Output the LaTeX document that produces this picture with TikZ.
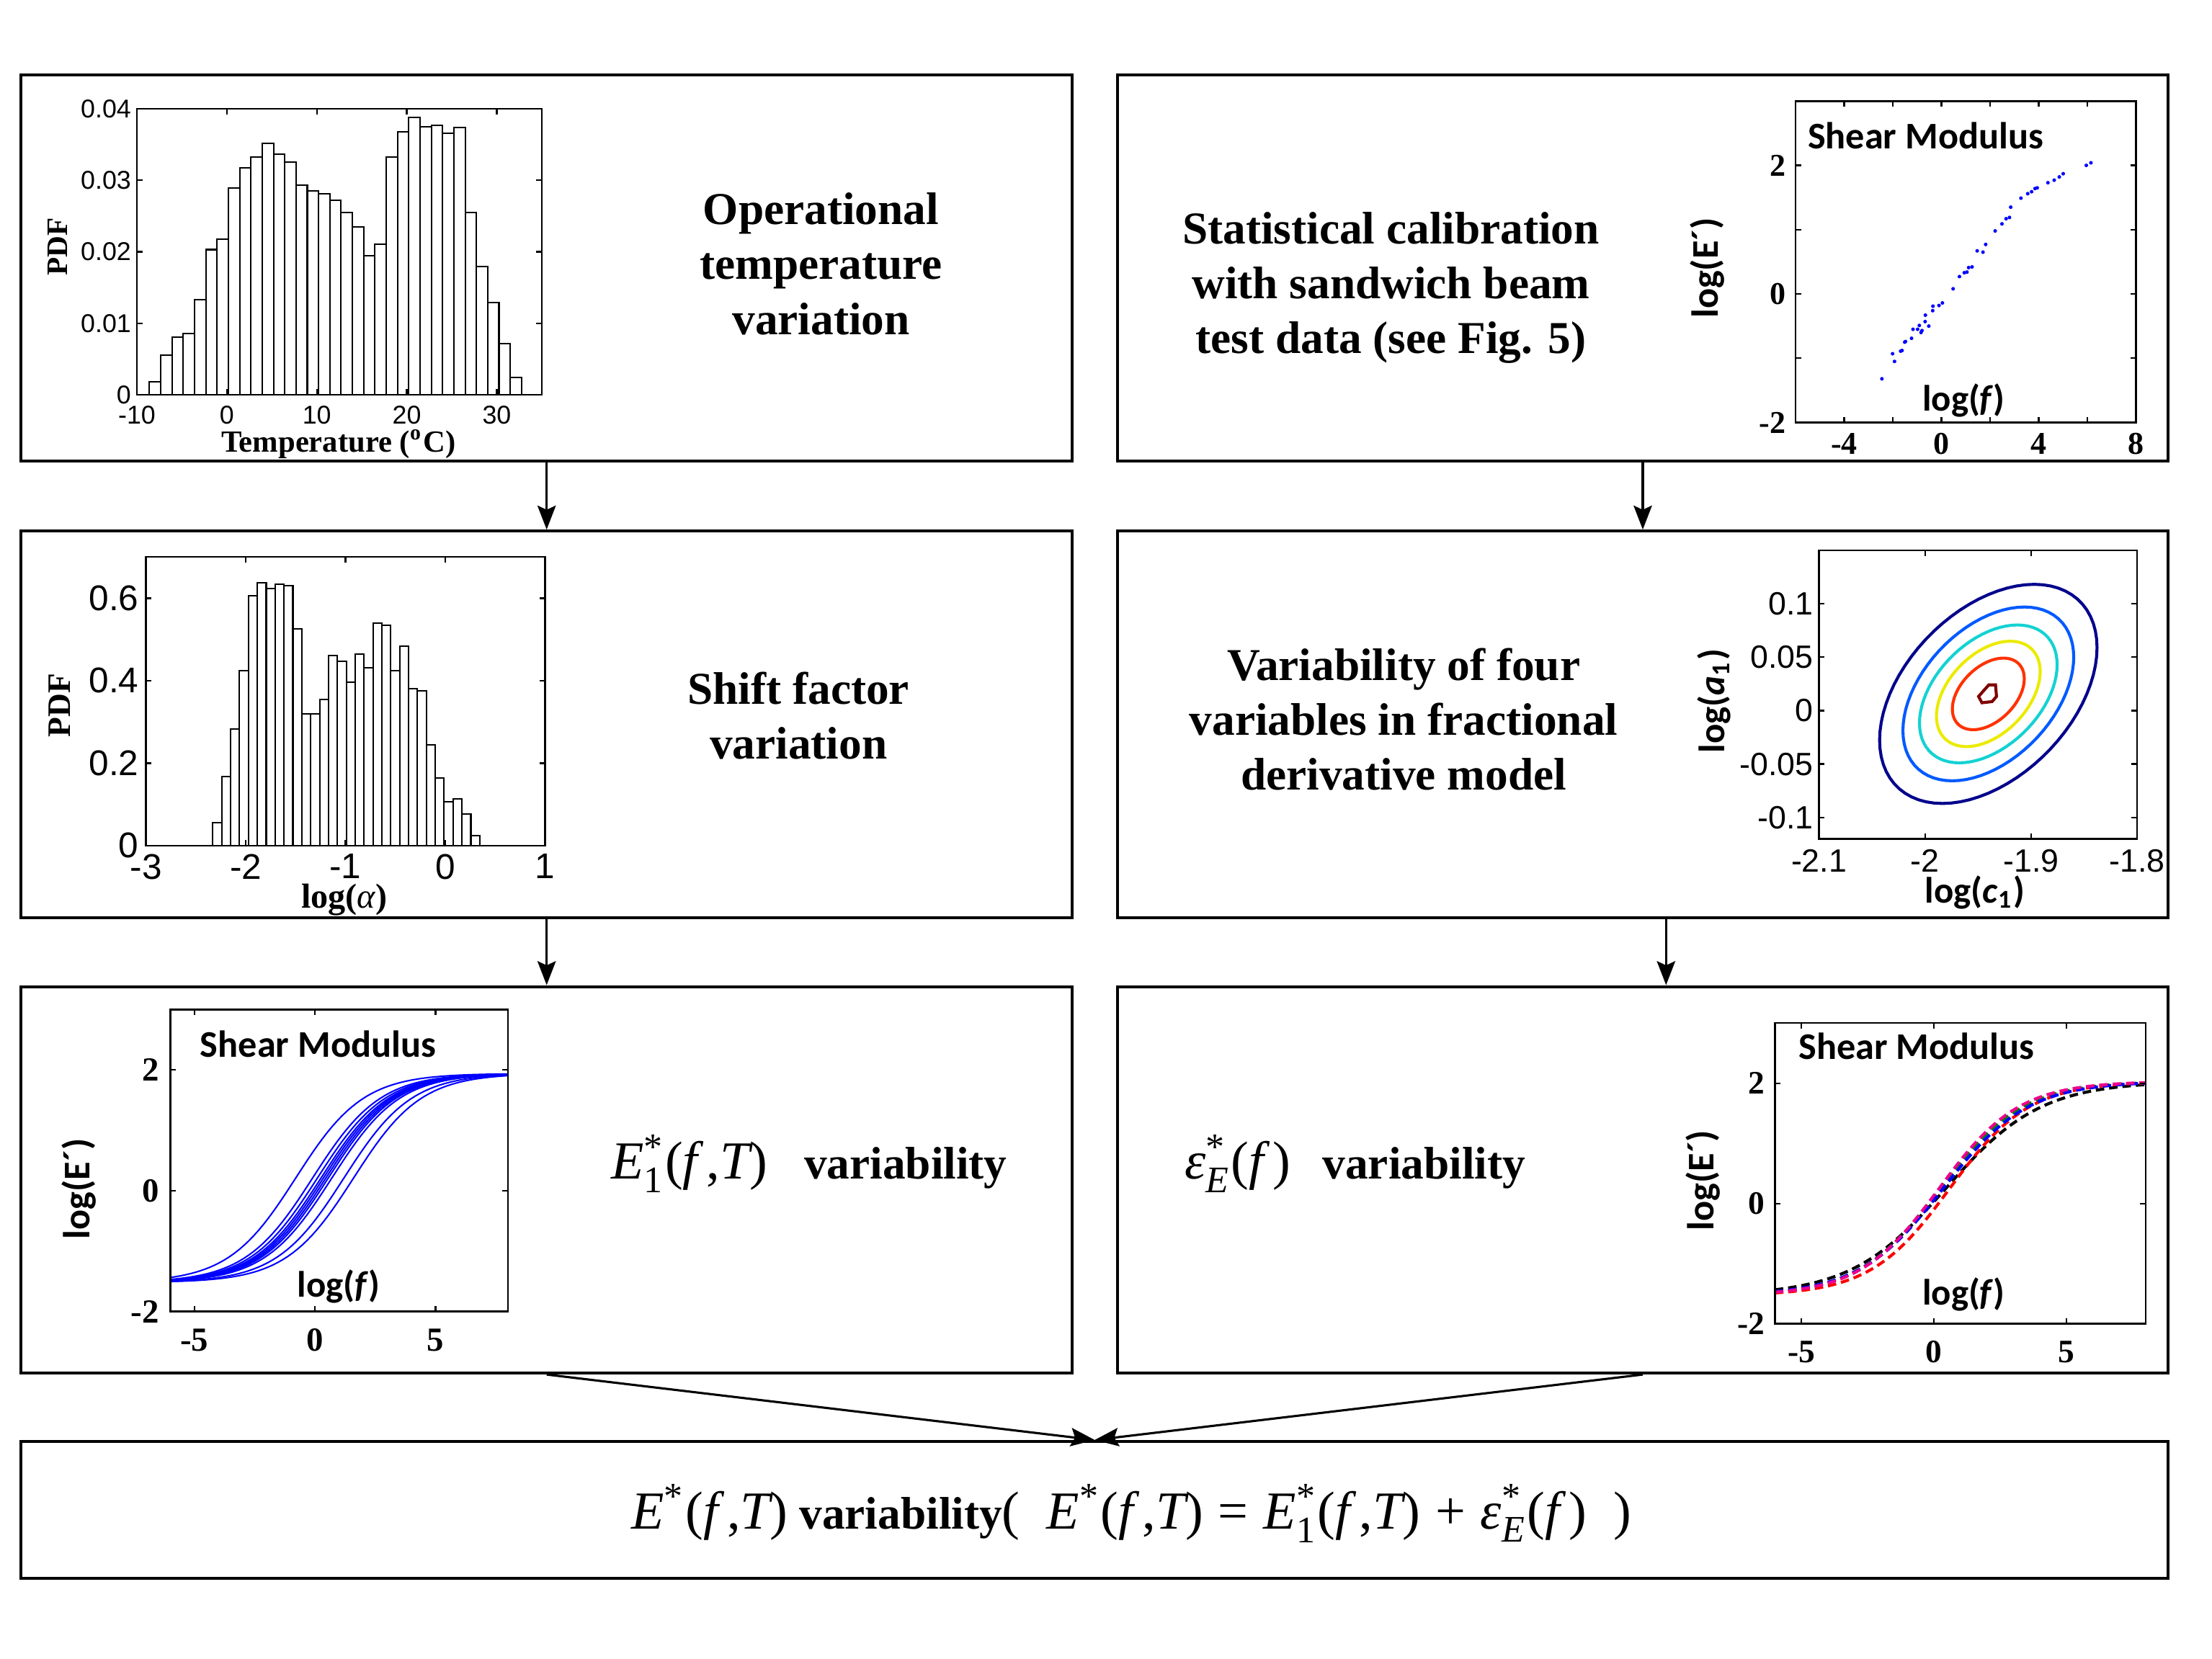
\documentclass[tikz,border=0pt]{standalone}
\usepackage{amsmath}
\usepackage{fontspec}
\setmainfont{Liberation Serif}
\setsansfont{Liberation Sans}
\newfontfamily\calfont{Carlito}
\usetikzlibrary{arrows.meta}

\definecolor{cnavy}{RGB}{0,0,140}
\definecolor{cblue}{RGB}{0,90,255}
\definecolor{ccyan}{RGB}{20,210,210}
\definecolor{cyellow}{RGB}{235,235,0}
\definecolor{cred}{RGB}{255,50,0}
\definecolor{cdarkred}{RGB}{128,0,0}
\definecolor{cgreen}{RGB}{0,128,0}

\newcommand{\mvar}[1]{\text{\normalfont\itshape #1}}
\newcommand{\mrm}[1]{\text{\normalfont #1}}
\newcommand{\mathsz}{\fontsize{10.8}{13}\selectfont}
\newcommand{\Es}{\mvar{E}^{\mrm{*}}}
\newcommand{\Eone}{\mvar{E}^{\mrm{*}}_{\mrm{1}}}
\newcommand{\epsE}{\mvar{ε}^{\mrm{*}}_{\mvar{E}}}
\newcommand{\fT}{\mrm{(}\mvar{f}\mrm{\,,}\mvar{T}\mrm{)}}
\newcommand{\fonly}{\mrm{(}\mvar{f}\,\mrm{)}}

\tikzset{
  stagebox/.style={draw, line width=0.6pt, minimum width=74.5mm, minimum height=27.4mm, inner sep=0pt},
  stagetext/.style={font=\fontsize{9.2}{11.1}\selectfont\bfseries, align=center, inner sep=0pt},
  flow/.style={line width=0.45pt, -{Stealth[length=1.7mm, width=1.3mm, inset=0.3mm]}},
  axisframe/.style={line width=0.35pt},
  histbar/.style={line width=0.3pt, fill=white},
  sanslab/.style={font=\sffamily\fontsize{#1}{#1}\selectfont, inner sep=0.7pt},
  boldlab/.style={font=\bfseries\fontsize{#1}{#1}\selectfont, inner sep=0.7pt},
  callab/.style={font=\calfont\bfseries\fontsize{#1}{#1}\selectfont, inner sep=0pt},
  modcurve/.style={line width=0.3pt, blue},
  errcurve/.style={line width=0.6pt, dash pattern=on 0.6mm off 0.35mm},
  contour/.style={line width=0.6pt}
}

\begin{document}
\begin{tikzpicture}[x=0.1mm, y=-0.1mm]
\fill[white] (0,0) rectangle (1568,1176);
\useasboundingbox (0,0) rectangle (1568,1176);

% stages
\node[stagebox] (temp) at (387.5,190) {};
\node[stagebox] (calib) at (1164.5,190) {};
\node[stagebox] (shift) at (387.5,513.5) {};
\node[stagebox] (fdm) at (1164.5,513.5) {};
\node[stagebox] (eone) at (387.5,836.5) {};
\node[stagebox] (eps) at (1164.5,836.5) {};
\node[stagebox, minimum width=152.2mm, minimum height=9.7mm] (total) at (776,1070.5) {};

\node[stagetext] (temptxt) at (582,187) {Operational\\temperature\\variation};
\node[stagetext] (calibtxt) at (986,204) {Statistical calibration\\with sandwich beam\\test data (see Fig. 5)};
\node[stagetext] (shifttxt) at (566,507.5) {Shift factor\\variation};
\node[stagetext] (fdmtxt) at (995,510) {Variability of four\\variables in fractional\\derivative model};
\node[stagetext] (eonetxt) at (573.5,825) {{\mathsz$\Eone\fT$}\hspace{0.8em}variability};
\node[stagetext] (epstxt) at (960.5,825) {{\mathsz$\epsE\fonly$}\hspace{0.7em}variability};
\node[stagetext] (totaltxt) at (802,1073) {{\mathsz$\Es\fT$} variability{\mathsz\mrm{(}\ \ $\Es\fT\;\mrm{=}\;\Eone\fT\;\mrm{+}\;\epsE\fonly$\ \ \mrm{)}}};

\draw[flow] (temp) -- (shift);
\draw[flow] (calib) -- (fdm);
\draw[flow] (shift) -- (eone);
\draw[flow] ([xshift=1.65mm]fdm.south) -- ([xshift=1.65mm]eps.north);
\draw[flow] (eone.south) -- (total.north);
\draw[flow] (eps.south) -- (total.north);

% temperature histogram
\begin{scope}[shift={(160.8,280)}, x=0.6378mm, y=0.5075mm]
  \foreach \h [count=\i from 0] in {1.8,5.6,8.1,8.6,13.3,20.3,21.8,28.9,31.7,33.2,35.1,33.6,32.5,29.3,28.5,28.1,27.2,25.5,23.5,19.4,21.1,33.2,36.8,38.8,37.5,37.7,36.6,37.4,25.5,17.9,12.9,7.2,2.4}
    \draw[histbar] ({-8.6+1.253*\i},0) rectangle ++(1.253,\h);
  \draw[axisframe] (-10,0) rectangle (35,40);
  \foreach \t [count=\i] in {-10,0,10,20,30} {
    \draw[axisframe] (\t,0) -- ++(0,0.4mm) (\t,40) -- ++(0,-0.4mm);
    \node[sanslab=5.2, below=0.45mm] (tempx\i) at (\t,0) {\t};
  }
  \foreach \v/\l [count=\i] in {0/0,10/0.01,20/0.02,30/0.03,40/0.04} {
    \draw[axisframe] (-10,\v) -- ++(0.4mm,0) (35,\v) -- ++(-0.4mm,0);
    \node[sanslab=5.2, left=0.1mm] (tempy\i) at (-10,\v) {\l};
  }
\end{scope}
\node[boldlab=6, rotate=90] (temppdf) at (41,175) {PDF};
\node[boldlab=6.2] (tempaxis) at (240,315) {Temperature (\textsuperscript{o}C)};

% shift factor histogram
\begin{scope}[shift={(315.6,599.5)}, x=7.07mm, y=29.23mm]
  \foreach \h [count=\i from 0] in {0.056,0.167,0.282,0.424,0.606,0.637,0.624,0.634,0.631,0.525,0.320,0.320,0.355,0.461,0.447,0.397,0.464,0.431,0.539,0.534,0.424,0.483,0.380,0.376,0.244,0.164,0.106,0.114,0.076,0.024}
    \draw[histbar] ({-2.33+0.0892*\i},0) rectangle ++(0.0892,\h);
  \draw[axisframe] (-3,0) rectangle (1,0.7);
  \foreach \t [count=\i] in {-3,-2,-1,0,1} {
    \draw[axisframe] (\t,0) -- ++(0,0.4mm) (\t,0.7) -- ++(0,-0.4mm);
    \node[sanslab=7.2, below=0.3mm] (shiftx\i) at (\t,0) {\t};
  }
  \foreach \v [count=\i] in {0,0.2,0.4,0.6} {
    \draw[axisframe] (-3,\v) -- ++(0.4mm,0) (1,\v) -- ++(-0.4mm,0);
    \node[sanslab=7.2, left=0.2mm] (shifty\i) at (-3,\v) {\v};
  }
\end{scope}
\node[boldlab=7] (shiftaxis) at (244,638) {log({\mdseries\itshape α})};
\node[boldlab=6.6, rotate=90] (shiftpdf) at (42,500) {PDF};

% calibration data
\begin{scope}[shift={(1376.2,208.4)}, x=1.723mm, y=4.558mm]
  \draw[axisframe] (-6,-2) rectangle (8,3);
  \foreach \t in {-4,-2,0,2,4,6}
    \draw[axisframe] (\t,-2) -- ++(0,0.4mm) (\t,3) -- ++(0,-0.4mm);
  \foreach \v in {-1,0,1,2}
    \draw[axisframe] (-6,\v) -- ++(0.4mm,0) (8,\v) -- ++(-0.4mm,0);
  \foreach \t [count=\i] in {-4,0,4,8}
    \node[boldlab=6.4, below=0.45mm] (calibx\i) at (\t,-2) {\t};
  \foreach \v [count=\i] in {-2,0,2}
    \node[boldlab=6.4, left=0.4mm] (caliby\i) at (-6,\v) {\v};
  \foreach \p in {(-2.45,-1.32),(-2.01,-0.93),(-1.93,-1.05),(-1.68,-0.89),(-1.62,-0.88),(-1.51,-0.75),(-1.48,-0.74),(-1.23,-0.69),(-1.17,-0.55),(-0.98,-0.55),(-0.91,-0.49),(-0.84,-0.60),(-0.80,-0.57),(-0.67,-0.43),(-0.66,-0.33),(-0.52,-0.50),(-0.36,-0.26),(-0.35,-0.19),(-0.10,-0.18),(0.04,-0.14),(0.48,0.08),(0.74,0.27),(0.94,0.33),(1.05,0.34),(1.12,0.41),(1.26,0.42),(1.47,0.67),(1.71,0.65),(1.82,0.77),(2.21,0.98),(2.49,1.09),(2.66,1.17),(2.80,1.19),(2.85,1.35),(3.27,1.49),(3.55,1.56),(3.71,1.59),(3.85,1.64),(3.94,1.65),(4.38,1.73),(4.64,1.77),(4.85,1.82),(5.01,1.87),(5.96,2.00),(6.15,2.04)}
    \fill[blue] \p circle (0.13mm);
\end{scope}
\node[callab=7.6] (calibtitle) at (1365,96) {Shear Modulus};
\node[callab=7.6, rotate=90] (caliblogE) at (1210,190) {log(E´)};
\node[callab=7.4] (caliblogf) at (1392,284) {log(\textit{f})};

% joint density of the model variables
\begin{scope}[shift={(2868.6,503.8)}, x=75.2mm, y=75.8mm]
  \foreach \rx/\ry/\col in {0.1025/0.1025/cnavy,0.0805/0.0813/cblue,0.0649/0.0645/ccyan,0.0489/0.0493/cyellow,0.0339/0.0335/cred}
    \draw[contour, \col] plot[domain=0:360, samples=73] ({-1.9404+\rx*cos(\x)},{0.0156+\ry*sin(\x+25)}) -- cycle;
  \draw[contour, cdarkred] (-1.9496,0.0132) -- (-1.9400,0.0240) -- (-1.9336,0.0240) -- (-1.9327,0.0132) -- (-1.9368,0.0084) -- (-1.9464,0.0073) -- cycle;
  \draw[axisframe] (-2.1,-0.12) rectangle (-1.8,0.15);
  \foreach \t [count=\i] in {-2.1,-2,-1.9,-1.8} {
    \draw[axisframe] (\t,-0.12) -- ++(0,0.4mm) (\t,0.15) -- ++(0,-0.4mm);
    \node[sanslab=6.5, below=0.45mm] (fdmx\i) at (\t,-0.12) {\t};
  }
  \foreach \v [count=\i] in {-0.1,-0.05,0,0.05,0.1} {
    \draw[axisframe] (-2.1,\v) -- ++(0.4mm,0) (-1.8,\v) -- ++(-0.4mm,0);
    \node[sanslab=6.5, left=0.1mm] (fdmy\i) at (-2.1,\v) {\v};
  }
\end{scope}
\node[callab=7.4] (fdmlogc) at (1400,633) {log(\textit{c}\textsubscript{1})};
\node[callab=7.4, rotate=90] (fdmloga) at (1215,497) {log(\textit{a}\textsubscript{1})};

% shifted master curves
\begin{scope}[shift={(223.3,844.2)}, x=1.709mm, y=4.282mm]
  \foreach \c in {-0.8,-0.1,0.1,0.25,0.35,0.45,0.55,0.7,1.2,1.6}
    \draw[modcurve] plot[domain=-6:8, samples=70] (\x,{0.21+1.73*tanh((\x-\c)/2.8)});
  \draw[axisframe] (-6,-2) rectangle (8,3);
  \foreach \t [count=\i] in {-5,0,5} {
    \draw[axisframe] (\t,-2) -- ++(0,0.4mm) (\t,3) -- ++(0,-0.4mm);
    \node[boldlab=6.8, below=0.9mm] (eonex\i) at (\t,-2) {\t};
  }
  \foreach \v [count=\i] in {-2,0,2} {
    \draw[axisframe] (-6,\v) -- ++(0.4mm,0) (8,\v) -- ++(-0.4mm,0);
    \node[boldlab=6.8, left=0.5mm] (eoney\i) at (-6,\v) {\v};
  }
\end{scope}
\node[callab=7.6] (eonetitle) at (225.5,740) {Shear Modulus};
\node[callab=7.6, rotate=90] (eonelogE) at (56,843) {log(E´)};
\node[callab=7.4] (eonelogf) at (240,912) {log(\textit{f})};

% model error curves
\begin{scope}[shift={(1370.8,853.3)}, x=1.878mm, y=4.264mm]
  \foreach \col/\c/\w in {black/0.45/3.6,cgreen/0.25/3.1,red/0.6/3.0,blue/0.35/3.2,magenta/0.2/3.0}
    \draw[errcurve, \col] plot[domain=-6:8, samples=70] (\x,{0.25+1.78*tanh((\x-\c)/\w)});
  \draw[axisframe] (-6,-2) rectangle (8,3);
  \foreach \t [count=\i] in {-5,0,5} {
    \draw[axisframe] (\t,-2) -- ++(0,0.4mm) (\t,3) -- ++(0,-0.4mm);
    \node[boldlab=6.6, below=0.9mm] (epsx\i) at (\t,-2) {\t};
  }
  \foreach \v [count=\i] in {-2,0,2} {
    \draw[axisframe] (-6,\v) -- ++(0.4mm,0) (8,\v) -- ++(-0.4mm,0);
    \node[boldlab=6.6, left=0.4mm] (epsy\i) at (-6,\v) {\v};
  }
\end{scope}
\node[callab=7.6] (epstitle) at (1358.5,742) {Shear Modulus};
\node[callab=7.6, rotate=90] (epslogE) at (1207,837) {log(E´)};
\node[callab=7.4] (epslogf) at (1392,918) {log(\textit{f})};

\end{tikzpicture}
\end{document}
